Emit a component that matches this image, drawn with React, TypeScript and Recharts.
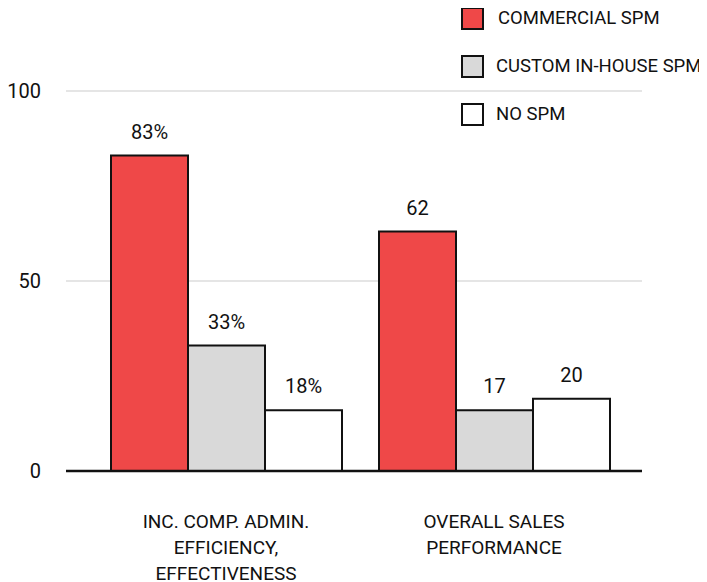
import React from 'react';
import { BarChart, Bar, XAxis, YAxis, CartesianGrid, Legend, LabelList } from 'recharts';

const categories = ['INC. COMP. ADMIN.\nEFFICIENCY,\nEFFECTIVENESS', 'OVERALL SALES\nPERFORMANCE'];
const commercialValues = [83, 63];
const customValues = [33, 16];
const noSpmValues = [16, 19];
const commercialLabels = ['83%', '62'];
const customLabels = ['33%', '17'];
const noSpmLabels = ['18%', '20'];
const seriesNames = ['COMMERCIAL SPM', 'CUSTOM IN-HOUSE SPM', 'NO SPM'];
const seriesColors = ['#EF4848', '#D9D9D9', '#FFFFFF'];
const yTicks = [0, 50, 100];

const FONT = 'Roboto, "Noto Sans", sans-serif';
const TEXT = '#111111';

const data = categories.map((c, i) => ({
  category: c,
  commercial: commercialValues[i],
  custom: customValues[i],
  noSpm: noSpmValues[i],
  commercialLabel: commercialLabels[i],
  customLabel: customLabels[i],
  noSpmLabel: noSpmLabels[i],
}));

const CategoryTick = (props: any) => {
  const { x, y, payload } = props;
  const lines = String(payload.value).split('\n');
  return (
    <text x={x} y={y + 57} textAnchor="middle" fill={TEXT} fontSize={19} fontFamily={FONT}>
      {lines.map((l, i) => (
        <tspan key={i} x={x} dy={i === 0 ? 0 : 26}>
          {l}
        </tspan>
      ))}
    </text>
  );
};

const LegendContent = () => (
  <div style={{ fontFamily: FONT, fontSize: 18.5, color: TEXT }}>
    {seriesNames.map((n, i) => (
      <div key={n} style={{ display: 'flex', alignItems: 'center', height: 48, whiteSpace: 'nowrap' }}>
        <div
          style={{
            width: 19,
            height: 19,
            flexShrink: 0,
            background: seriesColors[i],
            border: '2px solid #111',
            marginRight: i === 0 ? 14 : 12,
          }}
        />
        <span>{n}</span>
      </div>
    ))}
  </div>
);

export default function App() {
  return (
    <BarChart
      width={699}
      height={574}
      data={data}
      margin={{ top: 83, right: 65, bottom: 51, left: 0 }}
      barCategoryGap={19}
      barGap={0}
    >
      <CartesianGrid vertical={false} stroke="#dddddd" strokeWidth={1.5} />
      <XAxis
        dataKey="category"
        height={60}
        padding={{ left: 26, right: 14 }}
        axisLine={{ stroke: '#111', strokeWidth: 2.5 }}
        tickLine={false}
        tickSize={0}
        tickMargin={0}
        tick={<CategoryTick />}
        interval={0}
      />
      <YAxis
        width={58}
        domain={[0, 100]}
        ticks={yTicks}
        axisLine={false}
        tickLine={false}
        tickSize={0}
        tickMargin={25}
        tick={{ fill: TEXT, fontSize: 20, fontFamily: FONT }}
      />
      <Legend
        layout="horizontal"
        verticalAlign="middle"
        align="center"
        content={<LegendContent />}
        wrapperStyle={{ position: 'absolute', top: -14, left: 453, width: 240 }}
      />
      <Bar dataKey="commercial" name={seriesNames[0]} fill={seriesColors[0]} stroke="#111" strokeWidth={2} isAnimationActive={false}>
        <LabelList dataKey="commercialLabel" position="top" offset={17} fill={TEXT} fontSize={20} fontFamily={FONT} />
      </Bar>
      <Bar dataKey="custom" name={seriesNames[1]} fill={seriesColors[1]} stroke="#111" strokeWidth={2} isAnimationActive={false}>
        <LabelList dataKey="customLabel" position="top" offset={17} fill={TEXT} fontSize={20} fontFamily={FONT} />
      </Bar>
      <Bar dataKey="noSpm" name={seriesNames[2]} fill={seriesColors[2]} stroke="#111" strokeWidth={2} isAnimationActive={false}>
        <LabelList dataKey="noSpmLabel" position="top" offset={17} fill={TEXT} fontSize={20} fontFamily={FONT} />
      </Bar>
    </BarChart>
  );
}
